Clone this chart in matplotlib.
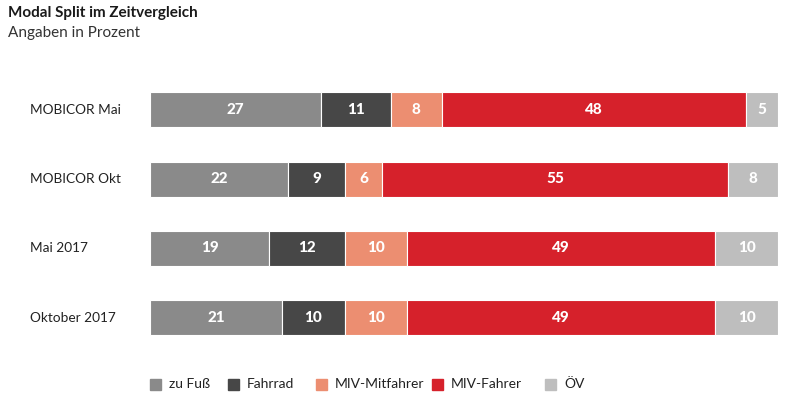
import matplotlib.pyplot as plt
import matplotlib.patches as mpatches

plt.rcParams['font.family'] = ['Lato', 'DejaVu Sans']

categories = ["MOBICOR Mai", "MOBICOR Okt", "Mai 2017", "Oktober 2017"]
series = ["zu Fuß", "Fahrrad", "MIV-Mitfahrer", "MIV-Fahrer", "ÖV"]
zu_fuss = [27, 22, 19, 21]
fahrrad = [11, 9, 12, 10]
miv_mitfahrer = [8, 6, 10, 10]
miv_fahrer = [48, 55, 49, 49]
oev = [5, 8, 10, 10]
values = [zu_fuss, fahrrad, miv_mitfahrer, miv_fahrer, oev]
colors = ["#8a8a8a", "#474747", "#ec8e71", "#d6212b", "#bebebe"]

fig = plt.figure(figsize=(8, 4.07), dpi=100)
ax = fig.add_axes([0.1875, 1 - 342 / 407, 0.785, (342 - 85) / 407])

# 100% stacked: scale each row to its total
totals = [sum(v[i] for v in values) for i in range(len(categories))]
ypos = list(range(len(categories)))
left = [0] * len(categories)
for vals, col in zip(values, colors):
    widths = [v / t * 100 for v, t in zip(vals, totals)]
    bars = ax.barh(ypos, widths, left=left, height=0.505, color=col,
                   edgecolor='white', linewidth=0.8)
    for b, v in zip(bars, vals):
        ax.text(b.get_x() + b.get_width() / 2, b.get_y() + b.get_height() / 2,
                str(v), ha='center', va='center', color='white',
                fontsize=11, fontweight='black')
    left = [l + w for l, w in zip(left, widths)]

ax.set_xlim(0, 100)
ax.set_ylim(3.35, -0.36)
ax.axis('off')

# category labels on the left
for i, c in enumerate(categories):
    ax.text(-19.1, i, c, ha='left', va='center', fontsize=9.8, color='#222222')

# title
fig.text(0.01, 0.985, "Modal Split im Zeitvergleich", ha='left', va='top',
         fontsize=11, fontweight='bold', color='#1a1a1a')
fig.text(0.01, 0.935, "Angaben in Prozent", ha='left', va='top',
         fontsize=11, color='#333333')

# manual legend
leg_x = [150, 228, 316, 432, 545]
for x, name, col in zip(leg_x, series, colors):
    fig.patches.append(mpatches.Rectangle((x / 800, 1 - 390 / 407), 11 / 800, 11 / 407,
                                          transform=fig.transFigure, color=col))
    fig.text((x + 19) / 800, 1 - 384.5 / 407, name, ha='left', va='center',
             fontsize=10, color='#222222')

plt.savefig("out.png", dpi=100)
